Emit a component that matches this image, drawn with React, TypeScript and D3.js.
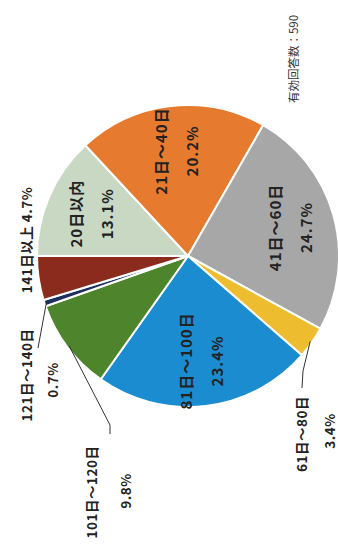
import React from "react";
import * as d3 from "d3";

const categories = ["20日以内", "21日～40日", "41日～60日", "61日～80日", "81日～100日", "101日～120日", "121日～140日", "141日以上"];
const values = [13.1, 20.2, 24.7, 3.4, 23.4, 9.8, 0.7, 4.7];
const colors = ["#c9d8c3", "#e67a2e", "#a7a7a7", "#eebd2f", "#1b8ccf", "#4e852c", "#1e2f5f", "#8a2b1d"];
const insideLabel = [true, true, true, false, true, false, false, false];
const note = "有効回答数：590";

const W = 338;
const H = 557;
const CX = 188;
const CY = 256;
const R = 151;
const FONT = "'Noto Sans CJK JP', 'Noto Sans', sans-serif";

// outside label layout (screen coords), per category index
const outsideLayout: Record<number, { lines: { x: number; y: number }[]; oneLine?: boolean; leader: [number, number][] }> = {
  3: { lines: [{ x: 301, y: 434 }, { x: 329, y: 431 }], leader: [[303, 371], [302, 388]] },
  5: { lines: [{ x: 91, y: 492 }, { x: 125, y: 491 }], leader: [[110, 425], [110, 434]] },
  6: { lines: [{ x: 26, y: 375 }, { x: 52, y: 380 }], leader: [[38, 348]] },
  7: { lines: [{ x: 26, y: 240 }], oneLine: true, leader: [] },
};

export default function App() {
  const pie = d3
    .pie<number>()
    .sort(null)
    .startAngle(-Math.PI / 2)
    .endAngle((3 * Math.PI) / 2)(values);
  const arc = d3.arc<d3.PieArcDatum<number>>().innerRadius(0).outerRadius(R);
  const labelArc = d3.arc<d3.PieArcDatum<number>>().innerRadius(R * 0.7).outerRadius(R * 0.7);
  const edgeArc = d3.arc<d3.PieArcDatum<number>>().innerRadius(R - 2).outerRadius(R - 2);
  const pct = (v: number) => `${v.toFixed(1)}%`;

  return (
    <svg width={W} height={H} style={{ position: "absolute", left: 0, top: 0, background: "#fff" }}>
      <g transform={`translate(${CX},${CY})`}>
        {pie.map((d, i) => (
          <path key={i} d={arc(d) || ""} fill={colors[i]} stroke="#fff" strokeWidth={2} strokeLinejoin="round" />
        ))}
        {pie.map((d, i) => {
          if (!insideLabel[i]) return null;
          const [x, y] = labelArc.centroid(d);
          return (
            <g key={"l" + i} transform={`translate(${x},${y}) rotate(-90)`} fontFamily={FONT} fontSize={15} fontWeight="bold" fill="#222" textAnchor="middle" dominantBaseline="central" letterSpacing={1}>
              <text y={-15.5}>{categories[i]}</text>
              <text y={15.5}>{pct(values[i])}</text>
            </g>
          );
        })}
      </g>
      {pie.map((d, i) => {
        const lay = outsideLayout[i];
        if (!lay) return null;
        const mid = (d.startAngle + d.endAngle) / 2;
        const [ex, ey] = edgeArc.centroid({ ...d, startAngle: mid, endAngle: mid });
        const pts: [number, number][] = [[ex + CX, ey + CY], ...lay.leader];
        const texts = lay.oneLine ? [`${categories[i]} ${pct(values[i])}`] : [categories[i], pct(values[i])];
        return (
          <g key={"o" + i}>
            {lay.leader.length > 0 && (
              <path d={d3.line()(pts) || ""} fill="none" stroke="#333" strokeWidth={1} />
            )}
            {texts.map((t, k) => (
              <text
                key={k}
                transform={`translate(${lay.lines[k].x},${lay.lines[k].y}) rotate(-90)`}
                fontFamily={FONT}
                fontSize={13.5}
                fontWeight="bold"
                fill="#222"
                textAnchor="middle"
                dominantBaseline="central"
                letterSpacing={0.5}
              >
                {t}
              </text>
            ))}
          </g>
        );
      })}
      <text transform={`translate(293,59) rotate(-90)`} fontFamily={FONT} fontSize={11.5} fill="#333" textAnchor="middle" dominantBaseline="central">
        {note}
      </text>
    </svg>
  );
}
